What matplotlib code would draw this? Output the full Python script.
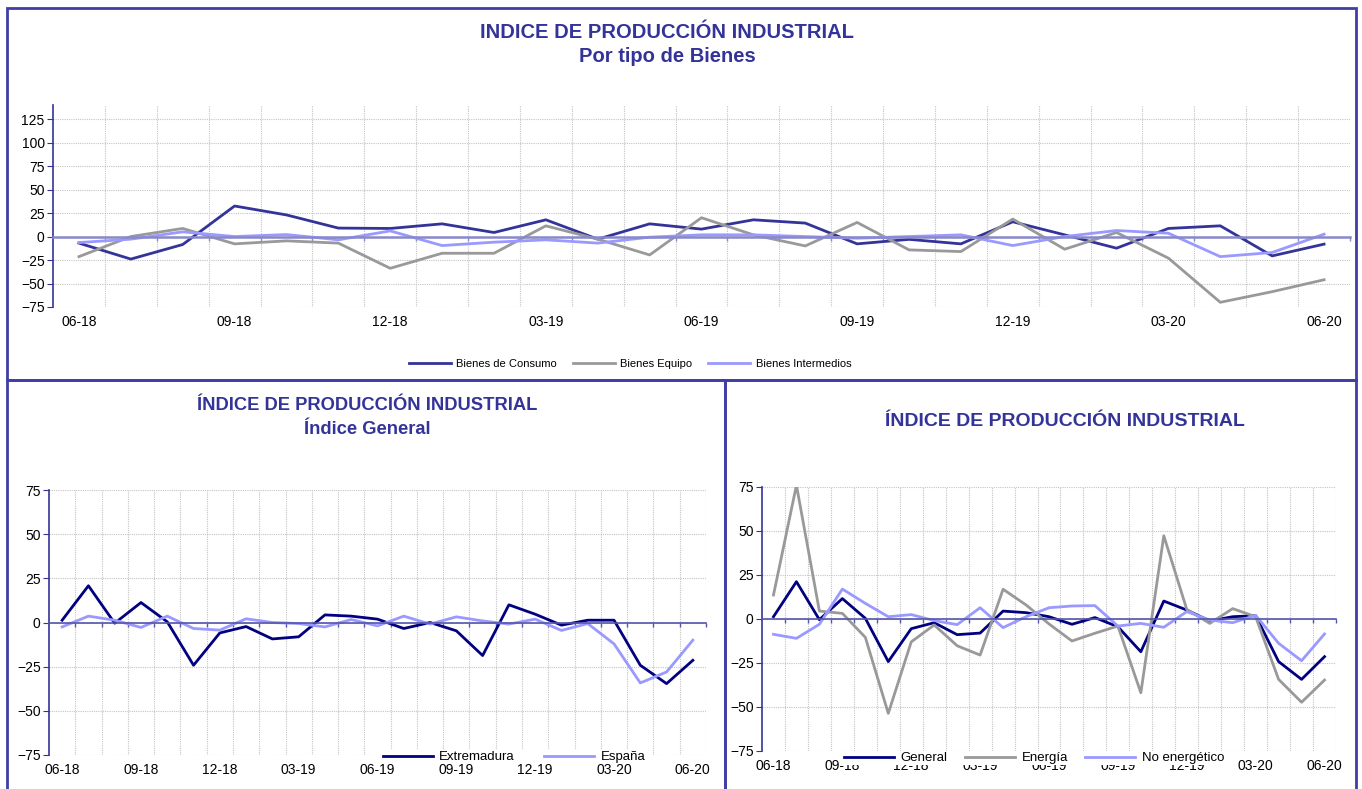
import matplotlib
matplotlib.use("Agg")
import matplotlib.pyplot as plt
from matplotlib.patches import Rectangle

plt.rcParams['font.family'] = ['Liberation Sans', 'DejaVu Sans']

# ---- data (tasa de variación, %) ----
months = ['06-18', '07-18', '08-18', '09-18', '10-18', '11-18', '12-18',
          '01-19', '02-19', '03-19', '04-19', '05-19', '06-19', '07-19',
          '08-19', '09-19', '10-19', '11-19', '12-19', '01-20', '02-20',
          '03-20', '04-20', '05-20', '06-20']

consumo = [-7, -24, -8.5, 32.5, 23, 9, 8.6, 13.5, 4.3, 17.8, -2.8, 13.5, 7.9,
           17.8, 14.3, -7.8, -3, -7.8, 15.7, 1.8, -12.4, 8.6, 11.4, -20.6, -8.1]
equipo = [-21.4, 0, 8.6, -7.8, -4.6, -7, -33.8, -17.8, -17.8, 11.4, -2.8, -19.6,
          20, 1.8, -10, 15, -14.2, -16, 18.6, -13.5, 4.3, -23, -70, -58.7, -46]
intermedios = [-6.4, -2.8, 5, 0, 2.1, -3.5, 6, -9.6, -6, -3.5, -7, -0.7, 1.8,
               1.8, 0, -1.8, 0, 1.8, -9.6, 0, 6.4, 3.5, -21.4, -17, 2.5]

extremadura = [1.3, 20.8, -0.4, 11.3, 0.4, -24.2, -5.9, -2.3, -9.3, -8.1, 4.3,
               3.6, 1.9, -3.4, 0, -4.7, -18.7, 10, 4.7, -1.5, 1.3, 1.3, -24.2,
               -34.6, -21.4]
espana = [-2.5, 3.6, 1.3, -2.8, 3.6, -3.4, -4.3, 2.1, 0, -0.6, -2.5, 1.7, -1.9,
          3.6, -0.9, 3.2, 0.9, -0.9, 1.9, -4.5, -0.6, -12.1, -34.2, -28, -10]

general = [1.3, 21.2, -0.4, 11.6, 0.4, -24.2, -5.5, -2.1, -8.9, -8, 4.5, 3.6,
           1.3, -3, 0.8, -4.4, -18.6, 10.2, 5.1, -1.1, 1.3, 1.9, -24.2, -34.3,
           -21.4]
energia = [13.6, 76, 4.5, 3.2, -10.4, -53.6, -13, -3.4, -15.2, -20.5, 16.9, 8,
           -2.8, -12.5, -8.1, -4, -41.9, 47.3, 5.5, -2.5, 5.9, 1.3, -34.3, -47.3,
           -34.7]
no_energetico = [-8.7, -11, -3, 17, 8.9, 1.3, 2.5, -0.9, -3.2, 6.4, -4.9, 1.3,
                 6.4, 7.4, 7.6, -4, -2.5, -4.7, 4.2, -0.6, -2.1, 2.1, -13.8,
                 -23.7, -8.5]

NAVY = '#000080'
BLUE = '#333399'
GREY = '#999999'
LILAC = '#9999ff'
FRAME = '#3f3fa5'

x = list(range(len(months)))
label_pos = x[::3]
label_txt = months[::3]
bounds = [i + 0.5 for i in x]


def style(ax, ylim, yticks, zero_color, zero_lw):
    ax.set_xlim(-0.5, len(months) - 0.5)
    ax.set_ylim(*ylim)
    ax.set_yticks(yticks)
    ax.tick_params(axis='y', labelsize=10, length=4, color=BLUE, pad=2)
    for s in ('top', 'right'):
        ax.spines[s].set_visible(False)
    ax.spines['left'].set_color(BLUE)
    ax.spines['left'].set_linewidth(1.2)
    # category axis crosses at zero, ticks between categories
    ax.spines['bottom'].set_position(('data', 0))
    ax.spines['bottom'].set_color(zero_color)
    ax.spines['bottom'].set_linewidth(zero_lw)
    ax.set_xticks(bounds)
    ax.set_xticklabels([])
    ax.tick_params(axis='x', length=3, color=zero_color, width=1)
    ax.grid(axis='both', color='#c4c4c4', linestyle=(0, (1, 1)), linewidth=0.8)
    ax.set_axisbelow(True)
    sec = ax.secondary_xaxis(0)
    sec.set_xticks(label_pos, label_txt)
    sec.tick_params(length=0, labelsize=10, pad=6)
    sec.spines['bottom'].set_visible(False)


fig = plt.figure(figsize=(13.62, 7.89), dpi=100)
W, H = 1362, 789


def fx(px):
    return px / W


def fy(py):
    return 1 - py / H


# panel frames
for x0, y0, x1, y1 in [(7, 8, 1356, 380), (7, 380, 725, 795), (725, 380, 1356, 795)]:
    fig.add_artist(Rectangle((fx(x0), fy(y1)), fx(x1 - x0), (y1 - y0) / H,
                             transform=fig.transFigure, fill=False,
                             ec=FRAME, lw=2))

# ---- top: por tipo de bienes ----
ax1 = fig.add_axes([fx(53), fy(307), fx(1350 - 53), (307 - 105) / H])
ax1.plot(x, consumo, color=BLUE, lw=2, label='Bienes de Consumo')
ax1.plot(x, equipo, color=GREY, lw=2, label='Bienes Equipo')
ax1.plot(x, intermedios, color=LILAC, lw=2, label='Bienes Intermedios')
style(ax1, (-75, 140), range(-75, 126, 25), '#8888cc', 1.8)
ax1.legend(loc='center', bbox_to_anchor=(fx(630), fy(364)),
           bbox_transform=fig.transFigure, ncol=3, frameon=False,
           fontsize=8, handlelength=3.8, handletextpad=0.5, columnspacing=1.4)
fig.text(fx(667), fy(33), 'INDICE DE PRODUCCIÓN INDUSTRIAL', ha='center',
         va='center', color=BLUE, fontsize=14.5, fontweight='bold')
fig.text(fx(667), fy(57), 'Por tipo de Bienes', ha='center', va='center',
         color=BLUE, fontsize=14.5, fontweight='bold')

# ---- bottom left: indice general ----
ax2 = fig.add_axes([fx(49), fy(755), fx(706 - 49), (755 - 490) / H])
ax2.plot(x, extremadura, color=NAVY, lw=2, label='Extremadura')
ax2.plot(x, espana, color=LILAC, lw=2, label='España')
style(ax2, (-75, 75), range(-75, 76, 25), '#5555aa', 1.2)
ax2.legend(loc='center', bbox_to_anchor=(fx(514), fy(757)),
           bbox_transform=fig.transFigure, ncol=2, frameon=True,
           facecolor='white', edgecolor='none', framealpha=1, fancybox=False,
           fontsize=9.5, handlelength=3.8, handletextpad=0.5,
           columnspacing=2.2, borderpad=0.1)
fig.text(fx(367), fy(406), 'ÍNDICE DE PRODUCCIÓN INDUSTRIAL', ha='center',
         va='center', color=BLUE, fontsize=13.2, fontweight='bold')
fig.text(fx(367), fy(430), 'Índice General', ha='center', va='center',
         color=BLUE, fontsize=13.2, fontweight='bold')

# ---- bottom right: general / energia / no energetico ----
ax3 = fig.add_axes([fx(762), fy(751), fx(1336 - 762), (751 - 487) / H])
ax3.plot(x, general, color=NAVY, lw=2, label='General')
ax3.plot(x, energia, color=GREY, lw=2, label='Energía')
ax3.plot(x, no_energetico, color=LILAC, lw=2, label='No energético')
style(ax3, (-75, 75), range(-75, 76, 25), '#5555aa', 1.2)
ax3.legend(loc='center', bbox_to_anchor=(fx(1034), fy(758)),
           bbox_transform=fig.transFigure, ncol=3, frameon=True,
           facecolor='white', edgecolor='none', framealpha=1, fancybox=False,
           fontsize=9.5, handlelength=3.8, handletextpad=0.5,
           columnspacing=1.3, borderpad=0.1)
fig.text(fx(1065), fy(421), 'ÍNDICE DE PRODUCCIÓN INDUSTRIAL', ha='center',
         va='center', color=BLUE, fontsize=14, fontweight='bold')

fig.savefig('out.png', dpi=100)
